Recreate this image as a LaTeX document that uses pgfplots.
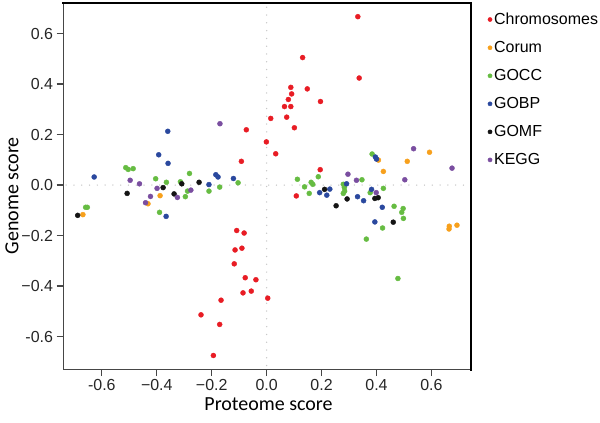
\documentclass[border=0pt]{standalone}
\usepackage{pgfplots}
\pgfplotsset{compat=1.18}
\usepackage{fontspec}
\setmainfont{Liberation Sans}
\newfontfamily\calibri{Carlito}
\definecolor{cRed}{RGB}{232,28,36}
\definecolor{cOrange}{RGB}{247,160,28}
\definecolor{cGreen}{RGB}{102,188,66}
\definecolor{cBlue}{RGB}{42,72,158}
\definecolor{cBlack}{RGB}{20,20,20}
\definecolor{cPurple}{RGB}{122,78,160}
\definecolor{dotgray}{RGB}{200,200,200}
\definecolor{axgray}{RGB}{70,70,70}
\begin{document}
\begin{tikzpicture}
\begin{axis}[
  name=ax,
  at={(63.3pt,53pt)}, anchor=south west,
  scale only axis, width=408.7pt, height=366.7pt,
  xmin=-0.7407, xmax=0.7455, ymin=-0.7306, ymax=0.72,
  clip=false,
  axis line style={draw=axgray, line width=1.3pt},
  tick align=outside, xtick pos=left, ytick pos=left,
  major tick length=6.7pt,
  tick style={draw=axgray, line width=1.2pt},
  xtick={-0.6,-0.4,-0.2,0,0.2,0.4,0.6},
  xticklabels={-0.6,−0.4,−0.2,0.0,0.2,0.4,0.6},
  ytick={-0.6,-0.4,-0.2,0,0.2,0.4,0.6},
  yticklabels={-0.6,−0.4,−0.2,0.0,0.2,0.4,0.6},
  ticklabel style={font=\fontsize{16}{16}\selectfont, text=black!85},
  xlabel={Proteome score}, ylabel={Genome score},
  xlabel style={font=\calibri\fontsize{20}{20}\selectfont, at={(axis description cs:0.503,-0.0955)}, anchor=center},
  ylabel style={font=\calibri\fontsize{20}{20}\selectfont, at={(axis description cs:-0.1255,0.4745)}, anchor=center},
  legend style={at={(axis description cs:1.04,0.9795)}, anchor=north west, draw=none, fill=none,
    font=\fontsize{16}{16}\selectfont, row sep=11.4pt, inner sep=0pt},
  legend cell align=left,
  legend image code/.code={\draw[#1, mark size=2.1pt] plot coordinates {(0pt,0pt)};},
  every axis plot/.append style={only marks, mark=*, mark size=2.5pt},
]
\draw[dotgray, line width=1.5pt, line cap=round, dash pattern=on 0pt off 7.8pt] (axis cs:0,-0.715) -- (axis cs:0,0.705);
\draw[dotgray, line width=1.5pt, line cap=round, dash pattern=on 0pt off 7.8pt] (axis cs:-0.73,0) -- (axis cs:0.735,0);
\addplot[mark options={draw=cRed, fill=cRed}] coordinates {
(0.332,0.667) (0.131,0.505) (0.337,0.424) (0.088,0.387) (0.091,0.361)
(0.148,0.381) (0.079,0.339) (0.065,0.311) (0.088,0.311) (0.196,0.331)
(0.073,0.269) (0.015,0.264) (0.101,0.227) (-0.074,0.219) (-0.001,0.171)
(0.033,0.124) (-0.092,0.094) (0.195,0.061) (0.108,-0.043)
(-0.109,-0.180) (-0.082,-0.190) (-0.115,-0.257) (-0.090,-0.250) (-0.118,-0.312)
(-0.078,-0.367) (-0.039,-0.375) (-0.086,-0.427) (-0.056,-0.420) (0.004,-0.448)
(-0.166,-0.456) (-0.239,-0.514) (-0.171,-0.552) (-0.194,-0.675)
};
\addlegendentry{Chromosomes}
\addplot[mark options={draw=cOrange, fill=cOrange}] coordinates {
(0.407,0.099) (0.593,0.130) (0.512,0.094) (0.425,0.054) (0.665,-0.163)
(0.664,-0.174) (0.693,-0.159) (-0.669,-0.117) (-0.388,-0.042) (-0.432,-0.074)
};
\addlegendentry{Corum}
\addplot[mark options={draw=cGreen, fill=cGreen}] coordinates {
(-0.653,-0.088) (-0.659,-0.088) (-0.513,0.069) (-0.504,0.062) (-0.486,0.065)
(-0.404,0.025) (-0.365,0.011) (-0.390,-0.108) (-0.314,0.013) (-0.281,0.046)
(-0.296,-0.046) (-0.288,-0.024) (-0.210,-0.024) (-0.171,-0.008) (-0.104,0.009)
(0.112,0.023) (0.138,-0.007) (0.162,0.011) (0.168,0.003) (0.188,0.033)
(0.155,-0.033) (0.279,0.003) (0.283,-0.010) (0.284,-0.024) (0.279,-0.033)
(0.347,0.021) (0.384,0.123) (0.377,-0.030) (0.425,-0.013) (0.464,-0.084)
(0.497,-0.093) (0.492,-0.108) (0.498,-0.132) (0.422,-0.170) (0.363,-0.214)
(0.478,-0.370)
};
\addlegendentry{GOCC}
\addplot[mark options={draw=cBlue, fill=cBlue}] coordinates {
(-0.628,0.032) (-0.360,0.213) (-0.393,0.120) (-0.359,0.086) (-0.366,-0.124)
(-0.210,0.002) (-0.185,0.041) (-0.177,0.032) (-0.121,0.026) (0.396,0.111)
(0.400,0.103) (0.291,0.005) (0.193,-0.030) (0.219,-0.040) (0.230,-0.016)
(0.331,-0.046) (0.353,-0.062) (0.382,-0.017) (0.394,-0.146) (0.421,-0.088)
};
\addlegendentry{GOBP}
\addplot[mark options={draw=cBlack, fill=cBlack}] coordinates {
(-0.688,-0.120) (-0.508,-0.033) (-0.377,-0.010) (-0.337,-0.035) (-0.309,0.005)
(-0.246,0.011) (0.211,-0.017) (0.253,-0.082) (0.293,-0.055) (0.394,-0.053)
(0.406,-0.050) (0.461,-0.147)
};
\addlegendentry{GOMF}
\addplot[mark options={draw=cBlack, fill=cPurple, draw=cPurple}] coordinates {
(-0.170,0.243) (-0.497,0.019) (-0.463,0.005) (-0.399,-0.013) (-0.423,-0.045)
(-0.441,-0.070) (-0.325,-0.049) (-0.276,-0.020) (0.296,0.043) (0.327,0.019)
(0.399,-0.030) (0.503,0.021) (0.535,0.144) (0.675,0.067)
};
\addlegendentry{KEGG}
\end{axis}
\draw[black, line width=2.2pt, line cap=rect] (ax.north west) -- (ax.north east) -- (ax.south east);
\path (0pt,0pt) (600pt,423pt);
\end{tikzpicture}
\end{document}
